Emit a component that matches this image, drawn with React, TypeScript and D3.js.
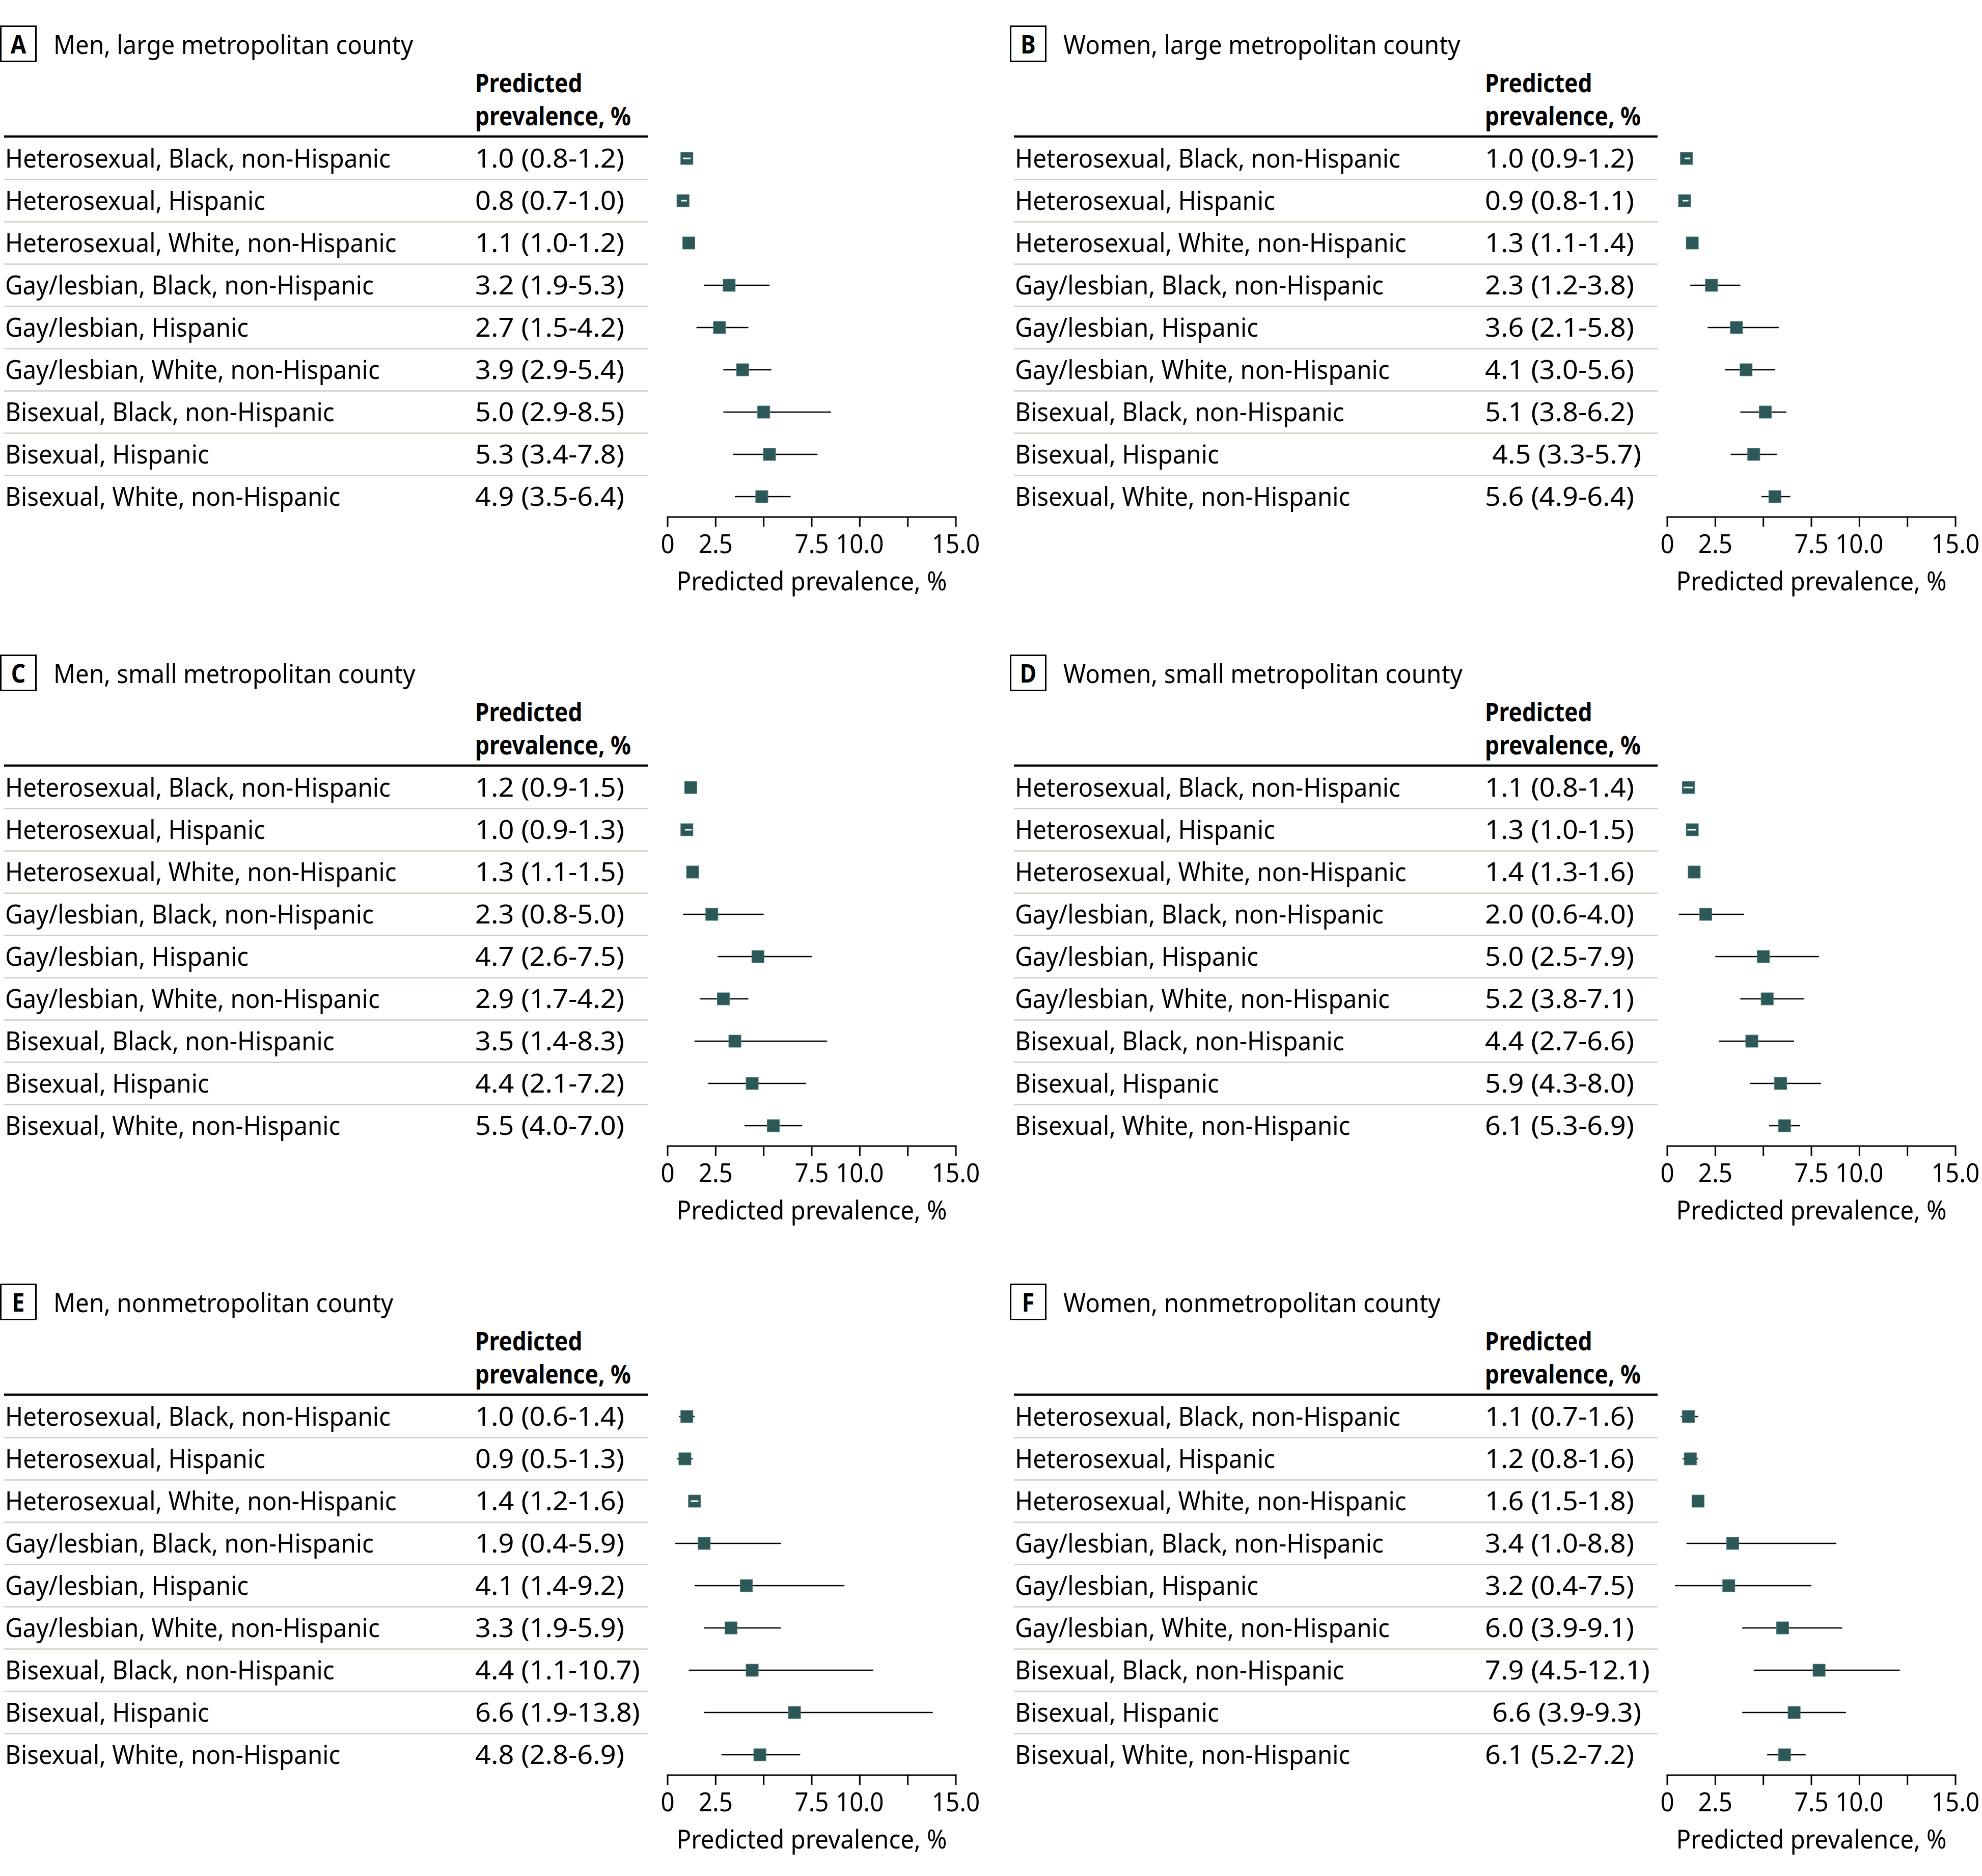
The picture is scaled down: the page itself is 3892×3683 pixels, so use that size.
import React, { useLayoutEffect, useRef, useState } from "react";
import * as d3 from "d3";

// ---------- data ----------
const CATEGORIES = [
  "Heterosexual, Black, non-Hispanic",
  "Heterosexual, Hispanic",
  "Heterosexual, White, non-Hispanic",
  "Gay/lesbian, Black, non-Hispanic",
  "Gay/lesbian, Hispanic",
  "Gay/lesbian, White, non-Hispanic",
  "Bisexual, Black, non-Hispanic",
  "Bisexual, Hispanic",
  "Bisexual, White, non-Hispanic",
];

const PANEL_LETTERS = ["A", "B", "C", "D", "E", "F"];
const PANEL_TITLES = [
  "Men, large metropolitan county",
  "Women, large metropolitan county",
  "Men, small metropolitan county",
  "Women, small metropolitan county",
  "Men, nonmetropolitan county",
  "Women, nonmetropolitan county",
];

const EST_A = [1.0, 0.8, 1.1, 3.2, 2.7, 3.9, 5.0, 5.3, 4.9];
const LOW_A = [0.8, 0.7, 1.0, 1.9, 1.5, 2.9, 2.9, 3.4, 3.5];
const HIGH_A = [1.2, 1.0, 1.2, 5.3, 4.2, 5.4, 8.5, 7.8, 6.4];

const EST_B = [1.0, 0.9, 1.3, 2.3, 3.6, 4.1, 5.1, 4.5, 5.6];
const LOW_B = [0.9, 0.8, 1.1, 1.2, 2.1, 3.0, 3.8, 3.3, 4.9];
const HIGH_B = [1.2, 1.1, 1.4, 3.8, 5.8, 5.6, 6.2, 5.7, 6.4];

const EST_C = [1.2, 1.0, 1.3, 2.3, 4.7, 2.9, 3.5, 4.4, 5.5];
const LOW_C = [0.9, 0.9, 1.1, 0.8, 2.6, 1.7, 1.4, 2.1, 4.0];
const HIGH_C = [1.5, 1.3, 1.5, 5.0, 7.5, 4.2, 8.3, 7.2, 7.0];

const EST_D = [1.1, 1.3, 1.4, 2.0, 5.0, 5.2, 4.4, 5.9, 6.1];
const LOW_D = [0.8, 1.0, 1.3, 0.6, 2.5, 3.8, 2.7, 4.3, 5.3];
const HIGH_D = [1.4, 1.5, 1.6, 4.0, 7.9, 7.1, 6.6, 8.0, 6.9];

const EST_E = [1.0, 0.9, 1.4, 1.9, 4.1, 3.3, 4.4, 6.6, 4.8];
const LOW_E = [0.6, 0.5, 1.2, 0.4, 1.4, 1.9, 1.1, 1.9, 2.8];
const HIGH_E = [1.4, 1.3, 1.6, 5.9, 9.2, 5.9, 10.7, 13.8, 6.9];

const EST_F = [1.1, 1.2, 1.6, 3.4, 3.2, 6.0, 7.9, 6.6, 6.1];
const LOW_F = [0.7, 0.8, 1.5, 1.0, 0.4, 3.9, 4.5, 3.9, 5.2];
const HIGH_F = [1.6, 1.6, 1.8, 8.8, 7.5, 9.1, 12.1, 9.3, 7.2];

// rows whose narrow CI is shown as a white bar inside the marker
const WHITE_A = [0, 1];
const WHITE_B = [0, 1];
const WHITE_C = [1];
const WHITE_D = [0, 1];
const WHITE_E = [2];
const WHITE_F: number[] = [];

// rows whose value text is preceded by a space in the table
const PAD_A: number[] = [];
const PAD_B = [7];
const PAD_C: number[] = [];
const PAD_D: number[] = [];
const PAD_E: number[] = [];
const PAD_F = [7];

const X_DOMAIN = [0, 15];
const TICKS = [0, 2.5, 5, 7.5, 10, 12.5, 15];
const TICK_LABELS = ["0", "2.5", "", "7.5", "10.0", "", "15.0"];
const HEADER = ["Predicted", "prevalence, %"];
const AXIS_TITLE = "Predicted prevalence, %";

const PANELS = [
  { est: EST_A, low: LOW_A, high: HIGH_A, white: WHITE_A, pad: PAD_A },
  { est: EST_B, low: LOW_B, high: HIGH_B, white: WHITE_B, pad: PAD_B },
  { est: EST_C, low: LOW_C, high: HIGH_C, white: WHITE_C, pad: PAD_C },
  { est: EST_D, low: LOW_D, high: HIGH_D, white: WHITE_D, pad: PAD_D },
  { est: EST_E, low: LOW_E, high: HIGH_E, white: WHITE_E, pad: PAD_E },
  { est: EST_F, low: LOW_F, high: HIGH_F, white: WHITE_F, pad: PAD_F },
];

// ---------- layout ----------
const W = 3892;
const H = 3683;
const FONT = "'Noto Sans', 'Open Sans', 'DejaVu Sans', sans-serif";
const FS = 51;
const COL_TEXT_X = [0, 1983];
const COL_AXIS_X = [1311, 3274];
const AXIS_W = 566;
const ROW_STEP = 1235;
const ROW_H = 83;
const BAND_TOP = 269.5;
const SQ = 24;
const MARK = "#2c5957";
const SEP = "#c9d0c0";
const fmt = (v: number) => v.toFixed(1);

// reference widths (px) used to calibrate the horizontal text compression
const REF_LABEL = { text: "Heterosexual, Black, non-Hispanic", w: 757 };
const REF_VALUE = { text: "1.0 (0.8-1.2)", w: 293 };
const REF_BOLD = { text: "prevalence, %", w: 306 };

export default function App() {
  const mLabel = useRef<SVGTextElement>(null);
  const mValue = useRef<SVGTextElement>(null);
  const mBold = useRef<SVGTextElement>(null);
  const [sc, setSc] = useState({ label: 0.84, value: 0.95, bold: 0.8 });

  useLayoutEffect(() => {
    const measure = () => {
      const r = (el: SVGTextElement | null, w: number, d: number) => {
        if (!el) return d;
        const m = el.getComputedTextLength();
        return m > 0 ? w / m : d;
      };
      setSc({
        label: r(mLabel.current, REF_LABEL.w, 0.84),
        value: r(mValue.current, REF_VALUE.w, 0.95),
        bold: r(mBold.current, REF_BOLD.w, 0.8),
      });
    };
    measure();
    if ((document as any).fonts && (document as any).fonts.ready) {
      (document as any).fonts.ready.then(measure);
    }
  }, []);

  const T = (props: {
    x: number;
    y: number;
    anchor?: string;
    bold?: boolean;
    s?: number;
    children: React.ReactNode;
  }) => (
    <text
      transform={`translate(${props.x},${props.y}) scale(${props.s ?? sc.label},1)`}
      textAnchor={props.anchor || "start"}
      fontWeight={props.bold ? 700 : 400}
      fontFamily={FONT}
      fontSize={FS}
      fill="#000"
    >
      {props.children}
    </text>
  );

  const hidden = (ref: any, text: string, bold = false) => (
    <text
      ref={ref}
      x={-5000}
      y={-5000}
      fontFamily={FONT}
      fontSize={FS}
      fontWeight={bold ? 700 : 400}
      visibility="hidden"
    >
      {text}
    </text>
  );

  return (
    <svg
      width={W}
      height={H}
      viewBox={`0 0 ${W} ${H}`}
      style={{ position: "absolute", left: 0, top: 0, background: "#fff" }}
    >
      <rect x={0} y={0} width={W} height={H} fill="#fff" />
      {hidden(mLabel, REF_LABEL.text)}
      {hidden(mValue, REF_VALUE.text)}
      {hidden(mBold, REF_BOLD.text, true)}
      {PANELS.map((p, pi) => {
        const col = pi % 2;
        const row = Math.floor(pi / 2);
        const tx = COL_TEXT_X[col];
        const top = row * ROW_STEP;
        const x = d3
          .scaleLinear()
          .domain(X_DOMAIN)
          .range([COL_AXIS_X[col], COL_AXIS_X[col] + AXIS_W]);
        const y = d3
          .scaleBand()
          .domain(CATEGORIES)
          .range([top + BAND_TOP, top + BAND_TOP + ROW_H * CATEGORIES.length]);
        const bw = y.bandwidth();
        const axisY = top + 1015;
        return (
          <g key={pi}>
            <rect
              x={tx + 1.5}
              y={top + 51.5}
              width={69}
              height={69}
              fill="#fff"
              stroke="#000"
              strokeWidth={3}
            />
            <T x={tx + 36} y={top + 105} anchor="middle" bold s={sc.bold}>
              {PANEL_LETTERS[pi]}
            </T>
            <T x={tx + 105} y={top + 106}>
              {PANEL_TITLES[pi]}
            </T>
            <T x={tx + 933} y={top + 181} bold s={sc.bold}>
              {HEADER[0]}
            </T>
            <T x={tx + 933} y={top + 246} bold s={sc.bold}>
              {HEADER[1]}
            </T>
            <line
              x1={tx + 8}
              x2={tx + 1272}
              y1={top + 268}
              y2={top + 268}
              stroke="#000"
              strokeWidth={4.5}
            />
            {CATEGORIES.slice(1).map((c) => (
              <line
                key={c}
                x1={tx + 8}
                x2={tx + 1272}
                y1={y(c)!}
                y2={y(c)!}
                stroke={SEP}
                strokeWidth={2.5}
              />
            ))}
            {CATEGORIES.map((c, i) => {
              const cy = y(c)! + bw / 2;
              const cx = x(p.est[i]);
              const x0 = x(p.low[i]);
              const x1 = x(p.high[i]);
              const sqL = cx - SQ / 2;
              const sqR = cx + SQ / 2;
              const pad = p.pad.includes(i) ? "\u00A0" : "";
              return (
                <g key={c}>
                  <T x={tx + 10} y={cy + 18}>
                    {c}
                  </T>
                  <T x={tx + 933} y={cy + 18} s={sc.value}>
                    {`${pad}${fmt(p.est[i])} (${fmt(p.low[i])}-${fmt(p.high[i])})`}
                  </T>
                  <line x1={x0} x2={x1} y1={cy} y2={cy} stroke="#000" strokeWidth={2.5} />
                  <rect
                    x={sqL}
                    y={cy - SQ / 2}
                    width={SQ}
                    height={SQ}
                    fill={MARK}
                    stroke="#4f7c7a"
                    strokeWidth={1}
                  />
                  {p.white.includes(i) && (
                    <line
                      x1={Math.max(x0, sqL + 2.5)}
                      x2={Math.min(x1, sqR - 2.5)}
                      y1={cy}
                      y2={cy}
                      stroke="#fff"
                      strokeWidth={3}
                    />
                  )}
                </g>
              );
            })}
            <line
              x1={x(X_DOMAIN[0]) - 1.5}
              x2={x(X_DOMAIN[1]) + 1.5}
              y1={axisY}
              y2={axisY}
              stroke="#000"
              strokeWidth={3}
            />
            {TICKS.map((t, ti) => (
              <g key={t}>
                <line
                  x1={x(t)}
                  x2={x(t)}
                  y1={axisY}
                  y2={axisY + 19}
                  stroke="#000"
                  strokeWidth={3}
                />
                {TICK_LABELS[ti] && (
                  <T x={x(t)} y={top + 1086} anchor="middle">
                    {TICK_LABELS[ti]}
                  </T>
                )}
              </g>
            ))}
            <T x={(x(X_DOMAIN[0]) + x(X_DOMAIN[1])) / 2} y={top + 1159} anchor="middle">
              {AXIS_TITLE}
            </T>
          </g>
        );
      })}
    </svg>
  );
}
